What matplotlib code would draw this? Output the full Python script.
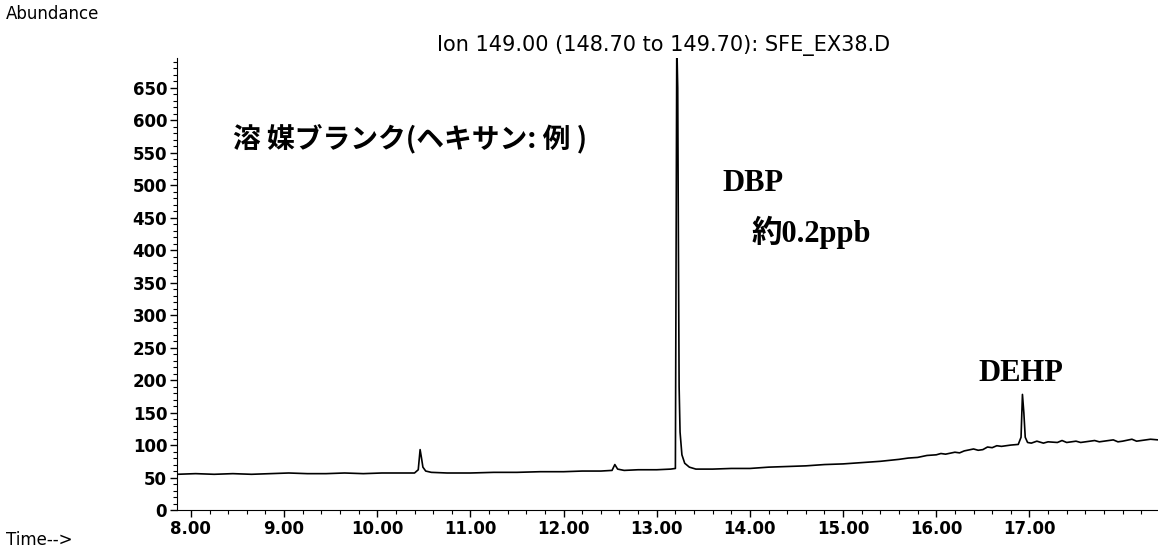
import matplotlib.pyplot as plt
from matplotlib.ticker import MultipleLocator

# Retention time (min) and abundance of the ion 149 trace
time_min = [7.85, 8.05, 8.25, 8.45, 8.65, 8.85, 9.05, 9.25, 9.45, 9.65, 9.85,
            10.05, 10.25, 10.40, 10.44, 10.46, 10.475, 10.49, 10.52, 10.58,
            10.75, 11.0, 11.25, 11.5, 11.75, 12.0, 12.2, 12.4, 12.52, 12.55,
            12.58, 12.65, 12.8, 13.0, 13.15, 13.2, 13.215, 13.225, 13.232,
            13.24, 13.25, 13.27, 13.30, 13.35, 13.42, 13.6, 13.8, 14.0, 14.2,
            14.4, 14.6, 14.8, 15.0, 15.2, 15.4, 15.6, 15.7, 15.8, 15.9, 16.0,
            16.05, 16.1, 16.2, 16.25, 16.3, 16.4, 16.45, 16.5, 16.55, 16.6,
            16.65, 16.7, 16.8, 16.88, 16.91, 16.925, 16.94, 16.955, 16.98,
            17.02, 17.08, 17.15, 17.2, 17.3, 17.35, 17.4, 17.5, 17.55, 17.6,
            17.7, 17.75, 17.8, 17.9, 17.95, 18.0, 18.1, 18.15, 18.2, 18.3,
            18.38]
abundance = [55, 56, 55, 56, 55, 56, 57, 56, 56, 57, 56,
             57, 57, 57, 62, 93, 80, 66, 60, 58,
             57, 57, 58, 58, 59, 59, 60, 60, 61, 70,
             63, 61, 62, 62, 63, 64, 720, 650, 420,
             190, 120, 85, 72, 66, 63, 63, 64, 64, 66,
             67, 68, 70, 71, 73, 75, 78, 80, 81, 84, 85,
             87, 86, 89, 88, 91, 94, 92, 93, 97, 96,
             99, 98, 100, 101, 112, 178, 150, 112, 104,
             103, 106, 103, 105, 104, 107, 104, 106, 104, 105,
             107, 105, 106, 108, 105, 106, 109, 106, 107, 109,
             108]

y_ticks = [0, 50, 100, 150, 200, 250, 300, 350, 400, 450, 500, 550, 600, 650]
x_ticks = [8, 9, 10, 11, 12, 13, 14, 15, 16, 17]
x_tick_labels = ['%.2f' % t for t in x_ticks]

fig = plt.figure(figsize=(11.58, 5.5), dpi=100)
ax = fig.add_axes([0.1528, 0.0727, 0.8472, 0.8218])

ax.plot(time_min, abundance, color='black', linewidth=1.2)

ax.set_xlim(7.85, 18.38)
ax.set_ylim(0, 696)
ax.set_yticks(y_ticks)
ax.set_xticks(x_ticks)
ax.set_xticklabels(x_tick_labels)
ax.yaxis.set_minor_locator(MultipleLocator(10))
ax.xaxis.set_minor_locator(MultipleLocator(0.2))
ax.tick_params(axis='both', which='major', direction='out', length=5, width=1,
               labelsize=12, pad=2)
ax.tick_params(axis='both', which='minor', direction='out', length=3, width=0.8)
for lab in ax.get_xticklabels() + ax.get_yticklabels():
    lab.set_fontweight('bold')
ax.spines['top'].set_visible(False)
ax.spines['right'].set_visible(False)

fig.text(0.005, 0.975, 'Abundance', fontsize=12, va='center', ha='left')
fig.text(0.005, 0.018, 'Time-->', fontsize=12, va='center', ha='left')
fig.text(0.573, 0.918, 'Ion 149.00 (148.70 to 149.70): SFE_EX38.D',
         fontsize=15, va='center', ha='center')

ax.text(8.45, 572, '溶 媒ブランク(ヘキサン: 例 )', fontsize=20, fontweight='bold',
        family=['Noto Sans CJK JP', 'DejaVu Sans'], va='center', ha='left')
ax.text(13.7, 503, 'DBP', fontsize=22, fontweight='bold',
        family='Liberation Serif', va='center', ha='left')
ax.text(14.02, 428, '約0.2ppb', fontsize=22, fontweight='bold',
        family=['Liberation Serif', 'Noto Sans CJK JP'], va='center', ha='left')
ax.text(16.45, 210, 'DEHP', fontsize=22, fontweight='bold',
        family='Liberation Serif', va='center', ha='left')

fig.savefig('out.png', dpi=100)
